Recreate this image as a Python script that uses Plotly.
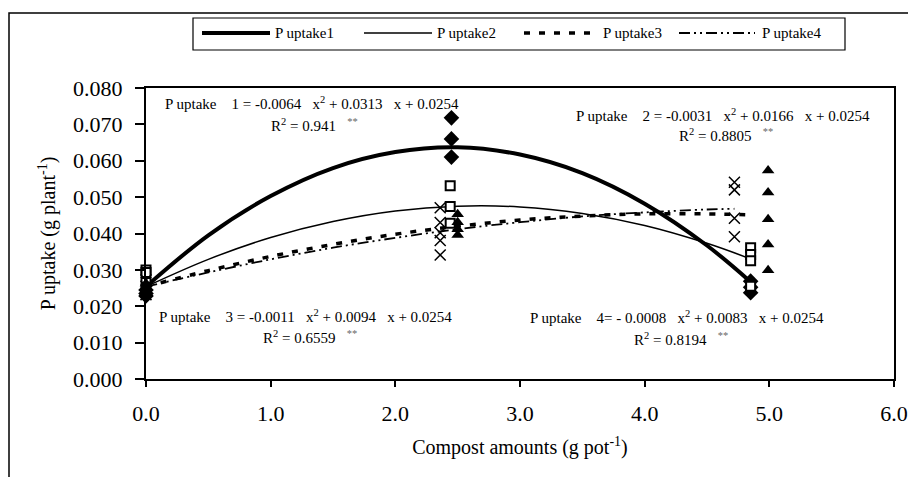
import plotly.graph_objects as go

# ---------------- data ----------------
series_names = ["P uptake1", "P uptake2", "P uptake3", "P uptake4"]

# fitted trend curves
curve1_x = [0.0, 0.5, 1.0, 1.5, 2.0, 2.5, 3.0, 3.5, 4.0, 4.5, 4.85]
curve1_y = [0.0254, 0.0395, 0.0503, 0.0580, 0.0624, 0.0637, 0.0617, 0.0566, 0.0482, 0.0367, 0.0267]
curve2_x = [0.0, 0.5, 1.0, 1.5, 2.0, 2.5, 3.0, 3.5, 4.0, 4.5, 4.85]
curve2_y = [0.0254, 0.0329, 0.0389, 0.0433, 0.0462, 0.0475, 0.0473, 0.0455, 0.0422, 0.0373, 0.0330]
curve3_x = [0.0, 0.5, 1.0, 1.5, 2.0, 2.5, 3.0, 3.5, 4.0, 4.5, 4.85]
curve3_y = [0.0254, 0.0298, 0.0337, 0.0370, 0.0398, 0.0420, 0.0437, 0.0448, 0.0454, 0.0454, 0.0451]
curve4_x = [0.0, 0.5, 1.0, 1.5, 2.0, 2.5, 3.0, 3.5, 4.0, 4.5, 4.72]
curve4_y = [0.0254, 0.0293, 0.0329, 0.0361, 0.0388, 0.0412, 0.0431, 0.0447, 0.0458, 0.0466, 0.0468]

# observed points
obs1_x = [0, 0, 0, 2.45, 2.45, 2.45, 4.85, 4.85, 4.85]
obs1_y = [0.0245, 0.0235, 0.0228, 0.0718, 0.0660, 0.0610, 0.0269, 0.0252, 0.0237]
obs2_x = [0, 0, 0, 2.44, 2.44, 2.44, 4.85, 4.85, 4.85, 4.85]
obs2_y = [0.0300, 0.0293, 0.0265, 0.0531, 0.0474, 0.0428, 0.0361, 0.0342, 0.0325, 0.0255]
obs3_x = [0, 0, 0, 2.50, 2.50, 2.50, 2.50, 4.99, 4.99, 4.99, 4.99, 4.99]
obs3_y = [0.0262, 0.0250, 0.0238, 0.0453, 0.0431, 0.0412, 0.0396, 0.0573, 0.0513, 0.0439, 0.0370, 0.0299]
obs4_x = [0, 0, 0, 2.36, 2.36, 2.36, 2.36, 2.36, 4.72, 4.72, 4.72, 4.72]
obs4_y = [0.0272, 0.0255, 0.0232, 0.0471, 0.0430, 0.0402, 0.0381, 0.0341, 0.0541, 0.0520, 0.0442, 0.0391]

x_ticks = [0, 1, 2, 3, 4, 5, 6]
x_tick_labels = ["0.0", "1.0", "2.0", "3.0", "4.0", "5.0", "6.0"]
y_ticks = [0.00, 0.01, 0.02, 0.03, 0.04, 0.05, 0.06, 0.07, 0.08]
y_tick_labels = ["0.000", "0.010", "0.020", "0.030", "0.040", "0.050", "0.060", "0.070", "0.080"]

eq_line1 = [
    "P uptake\u00a0\u00a0\u00a0 1 = -0.0064\u00a0\u00a0 x<sup>2</sup> + 0.0313\u00a0\u00a0 x + 0.0254",
    "P uptake\u00a0\u00a0\u00a0 2 = -0.0031\u00a0\u00a0 x<sup>2</sup> + 0.0166\u00a0\u00a0 x + 0.0254",
    "P uptake\u00a0\u00a0\u00a0 3 = -0.0011\u00a0\u00a0 x<sup>2</sup> + 0.0094\u00a0\u00a0 x + 0.0254",
    "P uptake\u00a0\u00a0\u00a0 4= - 0.0008\u00a0\u00a0 x<sup>2</sup> + 0.0083\u00a0\u00a0 x + 0.0254",
]
r2_values = ["0.941", "0.8805", "0.6559", "0.8194"]

# ---------------- layout helpers ----------------
FONT = "Liberation Serif, Times New Roman, serif"
OFF = 8                      # page offset (body margin) of the figure
W, H = 916, 477
L, R, T, B = 146, 894, 88, 379   # plot area in page pixels


def pxx(px):
    return (px - L) / (R - L)


def pxy(py):
    return (B - py) / (B - T)


fig = go.Figure()

curve_styles = [
    dict(width=4, dash="solid"),
    dict(width=1.5, dash="solid"),
    dict(width=3.5, dash="6px,9px"),
    dict(width=1.8, dash="11px,4px,2px,4px,2px,4px"),
]
curves = [(curve1_x, curve1_y), (curve2_x, curve2_y), (curve3_x, curve3_y), (curve4_x, curve4_y)]
for (cx, cy), st, nm in zip(curves, curve_styles, series_names):
    fig.add_trace(go.Scatter(x=cx, y=cy, mode="lines", name=nm, showlegend=False,
                             line=dict(color="black", width=st["width"], dash=st["dash"], shape="spline"),
                             hoverinfo="skip"))

marker_styles = [
    dict(symbol="diamond", size=12, color="black", line=dict(width=0)),
    dict(symbol="square", size=9, color="white", line=dict(color="black", width=2)),
    dict(symbol="triangle-up", size=11, color="black", line=dict(width=0)),
    dict(symbol="x-thin-open", size=11, color="black", line=dict(color="black", width=1.5)),
]
obs = [(obs1_x, obs1_y), (obs2_x, obs2_y), (obs3_x, obs3_y), (obs4_x, obs4_y)]
for (ox, oy), ms, nm in zip(obs, marker_styles, series_names):
    fig.add_trace(go.Scatter(x=ox, y=oy, mode="markers", name=nm, showlegend=False,
                             marker=ms, cliponaxis=False))

shapes = []
# outer frame
shapes.append(dict(type="rect", xref="paper", yref="paper",
                   x0=pxx(9), x1=pxx(940), y0=pxy(13), y1=pxy(500),
                   line=dict(color="black", width=1.5), fillcolor="rgba(0,0,0,0)", layer="below"))
# legend box
shapes.append(dict(type="rect", xref="paper", yref="paper",
                   x0=pxx(193), x1=pxx(845), y0=pxy(50), y1=pxy(18),
                   line=dict(color="black", width=1.2), fillcolor="white"))

annotations = []
leg_line_px = [(202, 270), (364, 432), (524, 597), (679, 755)]
leg_text_px = [273, 435, 601, 760]
leg_y = 33
for (x0, x1), tx, st, nm in zip(leg_line_px, leg_text_px, curve_styles, series_names):
    shapes.append(dict(type="line", xref="paper", yref="paper",
                       x0=pxx(x0), x1=pxx(x1), y0=pxy(leg_y), y1=pxy(leg_y),
                       line=dict(color="black", width=st["width"], dash=st["dash"])))
    annotations.append(dict(xref="paper", yref="paper", x=pxx(tx), y=pxy(leg_y),
                            text=nm, showarrow=False, xanchor="left", yanchor="middle",
                            font=dict(family=FONT, size=15, color="black")))

eq_pos1 = [(312, 103), (723, 115), (305, 316), (677, 317)]
eq_pos2 = [(314, 125), (726, 135), (310, 337), (681, 339)]
for txt, r2, p1, p2 in zip(eq_line1, r2_values, eq_pos1, eq_pos2):
    annotations.append(dict(xref="paper", yref="paper", x=pxx(p1[0]), y=pxy(p1[1]),
                            text=txt, showarrow=False, xanchor="center", yanchor="middle",
                            font=dict(family=FONT, size=15, color="black")))
    annotations.append(dict(xref="paper", yref="paper", x=pxx(p2[0]), y=pxy(p2[1]),
                            text="R<sup>2</sup> = " + r2 + "\u00a0\u00a0\u00a0<span style='color:#666666'><sup>**</sup></span>",
                            showarrow=False, xanchor="center", yanchor="middle",
                            font=dict(family=FONT, size=15, color="black")))

fig.update_layout(
    width=W, height=H,
    template="none",
    paper_bgcolor="white", plot_bgcolor="white",
    margin=dict(l=L - OFF, r=W - (R - OFF), t=T - OFF, b=H - (B - OFF), pad=0),
    font=dict(family=FONT, color="black"),
    showlegend=False,
    shapes=shapes,
    annotations=annotations,
    xaxis=dict(range=[0, 6], tickvals=x_ticks, ticktext=x_tick_labels,
               ticks="outside", ticklen=6, tickwidth=1.5, tickcolor="black",
               showline=True, linewidth=2, linecolor="black", mirror=True,
               showgrid=False, zeroline=False, automargin=False,
               tickfont=dict(family=FONT, size=22, color="black"), ticklabelstandoff=8,
               title=dict(text="Compost amounts (g pot<sup>-1</sup>)", standoff=15,
                          font=dict(family=FONT, size=20, color="black"))),
    yaxis=dict(range=[0, 0.08], tickvals=y_ticks, ticktext=y_tick_labels,
               ticks="outside", ticklen=9, tickwidth=1.5, tickcolor="black",
               showline=True, linewidth=2, linecolor="black", mirror=True,
               showgrid=False, zeroline=False, automargin=False,
               tickfont=dict(family=FONT, size=22, color="black"), ticklabelstandoff=8,
               title=dict(text="P uptake (g plant<sup>-1</sup>)", standoff=12,
                          font=dict(family=FONT, size=20, color="black"))),
)

fig.write_html("out.html")
